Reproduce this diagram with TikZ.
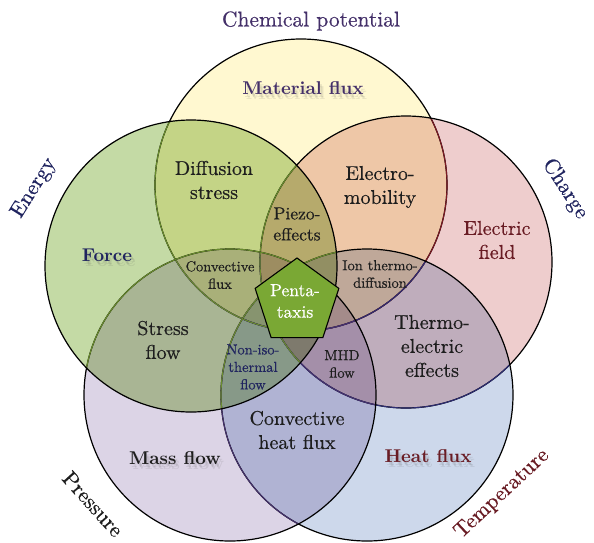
\documentclass[tikz,border=0pt]{standalone}
\usepackage{fontspec}
\setmainfont{lmroman10-regular.otf}[BoldFont=lmroman10-bold.otf]
\newfontfamily\semib{lmroman10-regular.otf}[FakeBold=0.5]
\usetikzlibrary{shapes.geometric}
\definecolor{cY}{RGB}{255,248,208}
\definecolor{cG}{RGB}{196,218,165}
\definecolor{cP}{RGB}{238,205,205}
\definecolor{cPu}{RGB}{220,212,230}
\definecolor{cB}{RGB}{205,216,235}
\definecolor{tG}{RGB}{105,140,45}
\definecolor{tP}{RGB}{125,25,35}
\definecolor{tB}{RGB}{45,45,115}
\definecolor{tPu}{RGB}{70,50,110}
\definecolor{pentafill}{RGB}{122,168,52}
\definecolor{navy}{RGB}{32,36,95}
\definecolor{plum}{RGB}{68,48,105}
\definecolor{maroon}{RGB}{105,28,36}
\definecolor{dk}{RGB}{30,30,30}
\newcommand\vcirc[1]{(#1) circle[radius=146pt]}
\begin{document}
\begin{tikzpicture}[x=1pt,y=-1pt,
  outl/.style={draw=black,line width=1.2pt},
  tint/.style={draw=#1,line width=1.1pt},
  big/.style={font=\semib\fontsize{20}{24}\selectfont,align=center,text=dk,inner sep=0pt},
  small/.style={font=\semib\fontsize{14.5}{17.5}\selectfont,align=center,text=dk,inner sep=0pt},
  boldlab/.style={font=\bfseries\fontsize{18.5}{22}\selectfont,align=center,inner sep=0pt},
  shadow/.style={boldlab,text=black!70,text opacity=0.12},
  outer/.style={font=\semib\fontsize{21.5}{26}\selectfont,inner sep=0pt}]
\useasboundingbox (0,0) rectangle (594,542);
\coordinate (cy) at (301,185);
\coordinate (cp) at (406,262);
\coordinate (cb) at (367,395);
\coordinate (cpu) at (230,395);
\coordinate (cg) at (191,266);
% fills
\begin{scope}[blend group=multiply]
  \fill[cY] \vcirc{cy};
  \fill[cP] \vcirc{cp};
  \fill[cB] \vcirc{cb};
  \fill[cPu] \vcirc{cpu};
  \fill[cG] \vcirc{cg};
\end{scope}
% outlines, layered: yellow, pink, blue, purple, green
\draw[outl] \vcirc{cy};
\begin{scope}\clip \vcirc{cp}; \draw[tint=tP] \vcirc{cy}; \end{scope}
\begin{scope}\clip \vcirc{cb}; \draw[tint=tB] \vcirc{cy}; \end{scope}
\begin{scope}\clip \vcirc{cpu}; \draw[tint=tPu] \vcirc{cy}; \end{scope}
\begin{scope}\clip \vcirc{cg}; \draw[tint=tG] \vcirc{cy}; \end{scope}
\draw[outl] \vcirc{cp};
\begin{scope}\clip \vcirc{cb}; \draw[tint=tB] \vcirc{cp}; \end{scope}
\begin{scope}\clip \vcirc{cpu}; \draw[tint=tPu] \vcirc{cp}; \end{scope}
\begin{scope}\clip \vcirc{cg}; \draw[tint=tG] \vcirc{cp}; \end{scope}
\draw[outl] \vcirc{cb};
\begin{scope}\clip \vcirc{cpu}; \draw[tint=tPu] \vcirc{cb}; \end{scope}
\begin{scope}\clip \vcirc{cg}; \draw[tint=tG] \vcirc{cb}; \end{scope}
\draw[outl] \vcirc{cpu};
\begin{scope}\clip \vcirc{cg}; \draw[tint=tG] \vcirc{cpu}; \end{scope}
\draw[outl] \vcirc{cg};
% outer labels
\node[outer,text=plum] (chem) at (311,21) {Chemical potential};
\node[outer,text=navy,rotate=58] (energy) at (34,188) {Energy};
\node[outer,text=navy,rotate=-57] (charge) at (565,189) {Charge};
\node[outer,text=dk,rotate=-48] (pressure) at (93,504) {Pressure};
\node[outer,text=maroon,rotate=43] (temp) at (502,494) {Temperature};
% bold labels with soft shadows
\node[shadow] (matfluxsa) at (305,91) {Material flux};
\node[shadow] (matfluxsb) at (306.5,93.5) {Material flux};
\node[boldlab,text=plum] (matflux) at (303,88) {Material flux};
\node[shadow] (forcesa) at (109,258) {Force};
\node[shadow] (forcesb) at (110.5,260.5) {Force};
\node[boldlab,text=navy] (force) at (107,255) {Force};
\node[shadow] (masssa) at (177,461) {Mass flow};
\node[shadow] (masssb) at (178.5,463.5) {Mass flow};
\node[boldlab,text=dk] (massflow) at (175,458) {Mass flow};
\node[shadow] (heatsa) at (430,459) {Heat flux};
\node[shadow] (heatsb) at (431.5,461.5) {Heat flux};
\node[boldlab,text=maroon] (heatflux) at (428,456) {Heat flux};
% region labels
\node[big] (diffstress) at (214,180) {Diffusion\\stress};
\node[big] (electromob) at (380,187) {Electro-\\mobility};
\node[big,text=maroon] (efield) at (497,240) {Electric\\field};
\node[font=\semib\fontsize{17.5}{21}\selectfont,align=center,text=dk,inner sep=0pt] (piezo) at (297,224) {Piezo-\\effects};
\node[small] (convflux) at (220,275) {Convective\\flux};
\node[small] (ionthermo) at (380,274) {Ion thermo-\\diffusion};
\node[big] (stressflow) at (163,340) {Stress\\flow};
\node[small,text=navy] (noniso) at (253,367) {Non-iso-\\thermal\\flow};
\node[small] (mhd) at (342,364) {MHD\\flow};
\node[big] (thermoel) at (432,346) {Thermo-\\electric\\effects};
\node[big] (convheat) at (297,430) {Convective\\heat flux};
% centre pentagon
\node[regular polygon,regular polygon sides=5,minimum size=88pt,inner sep=0pt,
  fill=pentafill,draw=black,line width=1.1pt] (pentagon) at (297,302) {};
\node[font=\semib\fontsize{17.5}{21.5}\selectfont,align=center,text=white,inner sep=0pt] (penta) at (295,301) {Penta-\\taxis};
\end{tikzpicture}
\end{document}
